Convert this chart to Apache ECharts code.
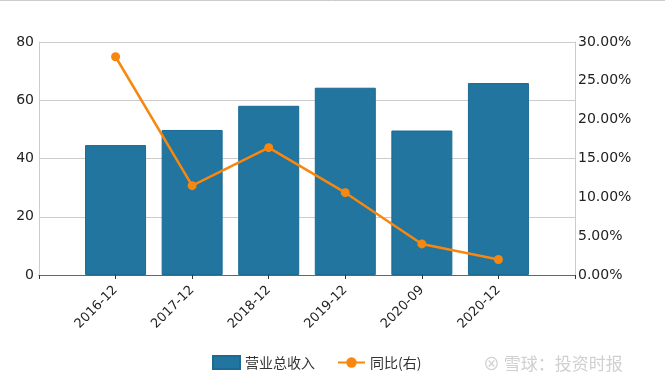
<!DOCTYPE html>
<html><head><meta charset="utf-8">
<script src="https://cdn.jsdelivr.net/npm/echarts@6/dist/echarts.min.js"></script>
<style>html,body{margin:0;padding:0;background:#fff}#c{width:665px;height:390px}</style>
</head><body><div id="c"></div>
<script>
const categories = ['2016-12','2017-12','2018-12','2019-12','2020-09','2020-12'];
const revenue = [44.6, 49.8, 58.1, 64.3, 49.6, 65.9];
const yoy = [0.281, 0.115, 0.164, 0.106, 0.040, 0.020];
const leftTicks = [0, 80, 20];
const rightTicks = [0, 0.3, 0.05];

const chart = echarts.init(document.getElementById('c'), null, {renderer:'canvas'});
const font = 'DejaVu Sans, Verdana, sans-serif';
chart.setOption({
  animation:false,
  grid:{left:39, right:90, top:42, bottom:115, containLabel:false},
  legend:{
    bottom:15, left:207, itemGap:22, itemWidth:27, itemHeight:13,
    textStyle:{fontFamily:'Noto Sans CJK SC', fontSize:14, color:'#333'},
    data:[{name:'营业总收入', icon:'rect'}, {name:'同比(右)'}]
  },
  xAxis:{
    type:'value', min:0, max:7, interval:1,
    splitLine:{show:false},
    axisLine:{show:true, lineStyle:{color:'#666'}},
    axisTick:{show:true, length:4, lineStyle:{color:'#333'}},
    axisLabel:{rotate:45, fontFamily:font, fontSize:13, color:'#222', margin:13,
      formatter:v => (v>=1 && v<=categories.length) ? categories[v-1] : ''}
  },
  yAxis:[{
    type:'value', min:leftTicks[0], max:leftTicks[1], interval:leftTicks[2],
    axisLine:{show:true, lineStyle:{color:'#ccc'}},
    axisTick:{show:false},
    splitLine:{lineStyle:{color:'#ccc', width:1}},
    axisLabel:{fontFamily:font, fontSize:14, color:'#222', margin:5}
  },{
    type:'value', min:rightTicks[0], max:rightTicks[1], interval:rightTicks[2],
    axisLine:{show:true, lineStyle:{color:'#ccc'}},
    axisTick:{show:false},
    splitLine:{show:false},
    axisLabel:{fontFamily:font, fontSize:14, color:'#222', margin:3,
      formatter:v => (v*100).toFixed(2)+'%'}
  }],
  series:[{
    name:'营业总收入', type:'bar', barWidth:61,
    itemStyle:{color:'#21759e', borderColor:'#1a6a94', borderWidth:1},
    data:revenue.map((v,i)=>[i+1, v])
  },{
    name:'同比(右)', type:'line', yAxisIndex:1,
    symbol:'circle', symbolSize:9,
    lineStyle:{color:'#f7870f', width:2.5},
    itemStyle:{color:'#f7870f'},
    data:yoy.map((v,i)=>[i+1, v])
  }],
  graphic:[
    {type:'line', shape:{x1:0,y1:0.5,x2:665,y2:0.5}, style:{stroke:'#ccc', lineWidth:1}},
    {type:'text', left:483, top:355, style:{text:'⊗ 雪球：投资时报', fill:'#d0d0d0', font:'17px "Noto Sans CJK SC"'}}
  ]
});
</script></body></html>
